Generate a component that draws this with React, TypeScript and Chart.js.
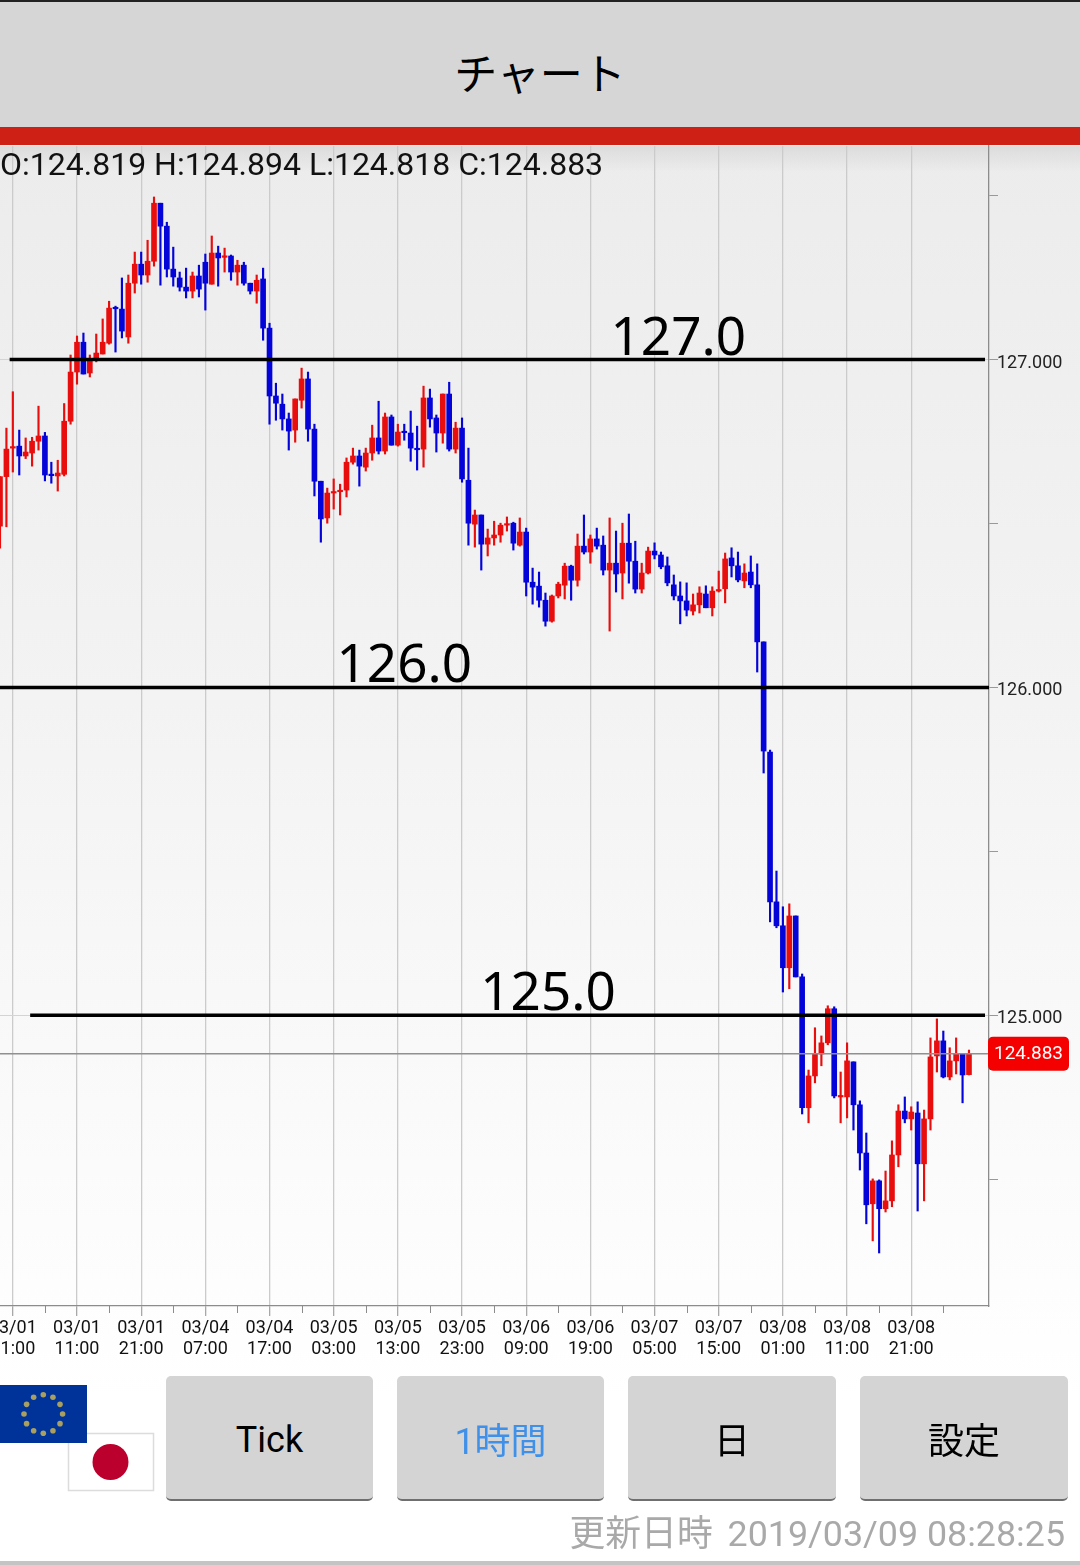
import React, { useEffect, useRef } from "react";
import { Chart, registerables } from "chart.js";

Chart.register(...registerables);

const opens = [
  126.492,126.643,126.730,126.736,126.706,126.715,126.751,126.767,126.648,126.645,
  126.650,126.812,126.962,127.053,126.959,126.998,127.017,127.050,127.157,127.154,
  127.069,127.233,127.291,127.258,127.300,127.477,127.407,127.276,127.249,127.221,
  127.209,127.255,127.297,127.230,127.325,127.312,127.316,127.267,127.288,127.233,
  127.209,127.246,127.096,126.889,126.864,126.819,126.785,126.876,126.941,126.788,
  126.629,126.517,126.593,126.597,126.602,126.687,126.706,126.672,126.715,126.761,
  126.721,126.825,126.739,126.779,126.776,126.729,126.727,126.883,126.822,126.776,
  126.895,126.727,126.791,126.632,126.498,126.526,126.437,126.456,126.465,126.495,
  126.501,126.434,126.474,126.321,126.309,126.266,126.202,126.279,126.312,126.370,
  126.327,126.431,126.413,126.453,126.434,126.358,126.379,126.349,126.440,126.385,
  126.300,126.349,126.416,126.404,126.371,126.313,126.279,126.264,126.233,126.252,
  126.285,126.243,126.294,126.301,126.395,126.371,126.325,126.352,126.313,126.139,
  125.803,125.346,125.273,125.145,125.303,125.117,124.718,124.815,124.882,124.916,
  125.020,124.751,124.751,124.858,124.727,124.580,124.425,124.495,124.410,124.434,
  124.574,124.708,124.684,124.702,124.547,124.684,124.876,124.922,124.812,124.861,
  124.882,124.819,
];
const highs = [
  126.643,126.791,126.902,126.785,126.761,126.763,126.858,126.778,126.687,126.693,
  126.866,127.014,127.072,127.081,127.014,127.078,127.124,127.178,127.163,127.249,
  127.258,127.328,127.328,127.364,127.496,127.477,127.419,127.343,127.267,127.279,
  127.267,127.288,127.322,127.377,127.346,127.340,127.319,127.303,127.297,127.233,
  127.258,127.279,127.111,126.928,126.895,126.837,126.880,126.974,126.962,126.803,
  126.629,126.608,126.636,126.620,126.700,126.730,126.724,126.730,126.800,126.873,
  126.837,126.831,126.803,126.803,126.843,126.797,126.919,126.910,126.831,126.895,
  126.931,126.809,126.822,126.730,126.541,126.526,126.483,126.507,126.501,126.520,
  126.504,126.517,126.486,126.364,126.352,126.288,126.282,126.321,126.379,126.373,
  126.468,126.526,126.465,126.486,126.462,126.517,126.477,126.501,126.529,126.446,
  126.379,126.428,126.441,126.413,126.398,126.343,126.322,126.319,126.285,126.307,
  126.310,126.307,126.355,126.410,126.426,126.413,126.377,126.401,126.377,126.139,
  125.809,125.440,125.331,125.340,125.303,125.126,124.833,124.962,124.937,125.029,
  125.026,124.827,124.916,124.858,124.739,124.641,124.501,124.498,124.525,124.617,
  124.727,124.751,124.721,124.736,124.711,124.931,124.989,124.952,124.901,124.931,
  124.882,124.894,
];
const lows = [
  126.425,126.490,126.657,126.648,126.698,126.675,126.724,126.630,126.623,126.599,
  126.645,126.803,126.925,126.956,126.947,126.993,127.017,127.047,127.023,127.066,
  127.050,127.203,127.230,127.236,127.285,127.227,127.252,127.224,127.209,127.188,
  127.188,127.191,127.151,127.230,127.224,127.267,127.242,127.227,127.227,127.200,
  127.172,127.059,126.803,126.815,126.785,126.724,126.748,126.852,126.751,126.584,
  126.443,126.501,126.544,126.526,126.581,126.681,126.614,126.660,126.693,126.712,
  126.712,126.739,126.736,126.754,126.690,126.663,126.672,126.794,126.718,126.745,
  126.721,126.715,126.626,126.434,126.428,126.358,126.401,126.434,126.443,126.477,
  126.419,126.431,126.279,126.254,126.245,126.187,126.199,126.273,126.270,126.266,
  126.309,126.407,126.379,126.422,126.343,126.172,126.291,126.270,126.318,126.288,
  126.288,126.346,126.392,126.362,126.310,126.267,126.194,126.218,126.221,126.227,
  126.243,126.218,126.291,126.258,126.337,126.322,126.304,126.304,126.047,125.739,
  125.285,125.267,125.071,125.081,125.117,124.699,124.672,124.794,124.846,124.910,
  124.748,124.672,124.687,124.650,124.528,124.364,124.312,124.275,124.400,124.416,
  124.538,124.672,124.650,124.403,124.434,124.650,124.827,124.809,124.803,124.821,
  124.733,124.818,
];
const closes = [
  126.643,126.727,126.733,126.706,126.718,126.751,126.767,126.648,126.646,126.654,
  126.812,126.962,127.053,126.956,126.998,127.020,127.053,127.157,127.155,127.087,
  127.233,127.291,127.258,127.300,127.477,127.407,127.276,127.252,127.221,127.209,
  127.255,127.215,127.233,127.325,127.310,127.316,127.267,127.288,127.233,127.209,
  127.242,127.096,126.889,126.867,126.819,126.782,126.880,126.941,126.788,126.629,
  126.514,126.593,126.597,126.601,126.687,126.706,126.675,126.715,126.761,126.721,
  126.825,126.739,126.779,126.777,126.730,126.725,126.883,126.819,126.776,126.895,
  126.727,126.791,126.636,126.501,126.526,126.437,126.456,126.465,126.495,126.499,
  126.440,126.474,126.321,126.306,126.266,126.202,126.279,126.315,126.370,126.327,
  126.431,126.413,126.453,126.431,126.358,126.379,126.346,126.440,126.385,126.300,
  126.349,126.416,126.404,126.368,126.319,126.279,126.264,126.236,126.252,126.288,
  126.243,126.294,126.298,126.392,126.371,126.328,126.349,126.313,126.139,125.806,
  125.346,125.273,125.145,125.303,125.117,124.718,124.815,124.882,124.916,125.020,
  124.754,124.755,124.861,124.727,124.580,124.422,124.495,124.410,124.434,124.574,
  124.708,124.684,124.705,124.547,124.684,124.873,124.922,124.812,124.861,124.882,
  124.818,124.883,
];

const tickDates = ["03/01","03/01","03/01","03/04","03/04","03/05","03/05","03/05","03/06","03/06","03/07","03/07","03/08","03/08","03/08"];
const tickHours = ["01:00","11:00","21:00","07:00","17:00","03:00","13:00","23:00","09:00","19:00","05:00","15:00","01:00","11:00","21:00"];
const levelValues = [127, 126, 125];
const levelTexts = ["127.0", "126.0", "125.0"];
const levelStarts = [1.5, -0.1, 4.7];
const levelEnds = [153.5, 154.2, 153.5];
const levelTextAt = [105.7, 63.0, 85.4];
const halfTicks = [124.5, 125, 125.5, 126, 126.5, 127, 127.5];
const lastPrice = 124.883;
const yRange = [124.1133, 127.6515];
const xRange = [0, 154.12];
const buttonLabels = ["Tick", "1時間", "日", "設定"];

const RED = "#e80e0e";
const BLUE = "#0404d8";
const ROBOTO = "Roboto, sans-serif";
const CJK = "Roboto, 'Noto Sans CJK JP', sans-serif";

const candlePlugin = {
  id: "sheetOverlay",
  afterDraw(chart: any) {
    const { ctx, scales } = chart;
    const x = scales.x;
    const y = scales.y;
    ctx.save();
    ctx.strokeStyle = "#8c8c8c";
    ctx.lineWidth = 1;
    x.ticks.forEach((t: any) => {
      if ((t.value - 2) % 10 !== 0) {
        const px = Math.round(x.getPixelForValue(t.value)) + 0.5;
        ctx.beginPath();
        ctx.moveTo(px, y.bottom);
        ctx.lineTo(px, y.bottom + 7);
        ctx.stroke();
      }
    });
    ctx.fillStyle = "#000";
    ctx.font = "53px 'Noto Sans', sans-serif";
    ctx.textAlign = "center";
    ctx.textBaseline = "alphabetic";
    levelTexts.forEach((s, i) => {
      ctx.fillText(s, x.getPixelForValue(levelTextAt[i]), y.getPixelForValue(levelValues[i]) - 5);
    });
    const py = y.getPixelForValue(lastPrice);
    ctx.fillStyle = "#f40000";
    ctx.beginPath();
    ctx.roundRect(x.right - 1, py - 17, 81, 34, 5);
    ctx.fill();
    ctx.fillStyle = "#fff";
    ctx.font = `19px ${ROBOTO}`;
    ctx.textAlign = "center";
    ctx.textBaseline = "middle";
    ctx.fillText(lastPrice.toFixed(3), x.right + 39.5, py + 1);
    ctx.restore();
  },
};

function Flags() {
  const stars = Array.from({ length: 12 }, (_, i) => {
    const a = (i * Math.PI) / 6;
    return { cx: 43.3 + 19.3 * Math.sin(a), cy: 1414 - 19.3 * Math.cos(a) };
  });
  return (
    <svg width={160} height={120} viewBox="0 1380 160 120" style={{ position: "absolute", left: 0, top: 1380 }}>
      <rect x={68.5} y={1433.5} width={85} height={57} fill="#fff" stroke="#dcdcdc" strokeWidth={1.5} />
      <circle cx={110.5} cy={1462} r={18} fill="#bc002d" />
      <rect x={0} y={1385} width={87} height={58} fill="#003399" />
      {stars.map((s, i) => (
        <circle key={i} cx={s.cx} cy={s.cy} r={2.8} fill="#a99f5e" />
      ))}
    </svg>
  );
}

export default function App() {
  const ref = useRef<HTMLCanvasElement | null>(null);

  useEffect(() => {
    document.body.style.margin = "0";
    const colors = opens.map((o, i) => (closes[i] >= o ? RED : BLUE));
    const chart = new Chart(ref.current as HTMLCanvasElement, {
      type: "bar",
      data: {
        datasets: [
          {
            type: "line",
            order: 0,
            data: [{ x: xRange[0], y: lastPrice }, { x: xRange[1], y: lastPrice }],
            borderColor: "#909090",
            borderWidth: 1.5,
            pointRadius: 0,
          },
          ...levelValues.map((v, i) => ({
            type: "line",
            order: 0,
            data: [{ x: levelStarts[i], y: v }, { x: levelEnds[i], y: v }],
            borderColor: "#000",
            borderWidth: 3.5,
            pointRadius: 0,
          })),
          {
            order: 2,
            data: highs.map((h, i) => ({ x: i, y: [lows[i], h] })),
            backgroundColor: colors,
            barThickness: 1.5,
            grouped: false,
          },
          {
            order: 1,
            data: opens.map((o, i) => ({ x: i, y: [o, closes[i]] })),
            backgroundColor: colors,
            barThickness: 5,
            minBarLength: 1.5,
            grouped: false,
          },
        ] as any,
      },
      options: {
        animation: false,
        responsive: false,
        devicePixelRatio: 1,
        layout: { padding: { top: 146, left: 0, right: 0, bottom: 0 } },
        plugins: { legend: { display: false }, tooltip: { enabled: false } },
        scales: {
          x: {
            type: "linear",
            offset: false,
            min: xRange[0],
            max: xRange[1],
            afterBuildTicks(scale: any) {
              const out = [];
              for (let i = 0; i < tickDates.length; i++) {
                out.push({ value: 2 + i * 10 });
                out.push({ value: 7 + i * 10 });
              }
              scale.ticks = out;
            },
            afterFit(scale: any) {
              scale.height = 259;
              scale.paddingLeft = 0;
              scale.paddingRight = 0;
            },
            ticks: {
              autoSkip: false,
              maxRotation: 0,
              minRotation: 0,
              padding: 2,
              color: "#111",
              font: { family: ROBOTO, size: 18, lineHeight: 1.17 },
              callback(v: any) {
                const k = (v - 2) / 10;
                return Number.isInteger(k) ? [tickDates[k], tickHours[k]] : "";
              },
            },
            grid: {
              offset: false,
              lineWidth: 1.3,
              tickLength: 10,
              color: (c: any) => (c.tick && (c.tick.value - 2) % 10 === 0 ? "#cbcbcb" : "rgba(0,0,0,0)"),
              tickColor: (c: any) => (c.tick && (c.tick.value - 2) % 10 === 0 ? "#a8a8a8" : "rgba(0,0,0,0)"),
            },
            border: { color: "#8c8c8c", width: 1.3 },
          },
          y: {
            type: "linear",
            position: "right",
            min: yRange[0],
            max: yRange[1],
            afterBuildTicks(scale: any) {
              scale.ticks = halfTicks.map((value) => ({ value }));
            },
            afterFit(scale: any) {
              scale.width = 91;
              scale.paddingTop = 0;
              scale.paddingBottom = 0;
            },
            ticks: {
              autoSkip: false,
              padding: -1,
              labelOffset: 3.5,
              color: "#222",
              font: { family: ROBOTO, size: 18 },
              callback(v: any) {
                return Number.isInteger(v) ? v.toFixed(3) : "";
              },
            },
            grid: {
              lineWidth: 1,
              tickLength: 9,
              color: (c: any) => (c.tick && Number.isInteger(c.tick.value) ? "#d4d4d4" : "rgba(0,0,0,0)"),
              tickColor: "#999",
            },
            border: { color: "#8c8c8c", width: 1.3 },
          },
        },
      } as any,
      plugins: [candlePlugin],
    });
    return () => chart.destroy();
  }, []);

  const buttonX = [166, 397, 628, 860];
  const buttonW = [207, 207, 208, 208];

  return (
    <div style={{ position: "relative", width: 1080, height: 1565, overflow: "hidden", background: "linear-gradient(#ececec 146px, #f3f3f3 700px, #ffffff 1400px)" }}>
      <div style={{ position: "absolute", left: 0, top: 146, width: 1080, height: 26, background: "linear-gradient(#dcdcdc, rgba(236,236,236,0))" }} />
      <div style={{ position: "absolute", left: 0, top: 0, width: 1080, height: 127, paddingTop: 12, background: "#d6d6d6", borderTop: "2px solid #222", boxSizing: "border-box", display: "flex", alignItems: "center", justifyContent: "center", fontFamily: CJK, fontSize: 43, color: "#000" }}>チャート</div>
      <div style={{ position: "absolute", left: 0, top: 127, width: 1080, height: 18, background: "#cf2015" }} />
      <canvas ref={ref} width={1080} height={1565} style={{ position: "absolute", left: 0, top: 0, width: 1080, height: 1565 }} />
      <div style={{ position: "absolute", left: 0, top: 145, fontFamily: ROBOTO, fontSize: 32, lineHeight: "38px", color: "#111", whiteSpace: "pre" }}>O:124.819 H:124.894 L:124.818 C:124.883</div>
      <Flags />
      {buttonLabels.map((s, i) => (
        <div key={s} style={{ position: "absolute", left: buttonX[i], top: 1376, width: buttonW[i], height: 125, paddingTop: i === 0 ? 5 : 0, boxSizing: "border-box", background: "#d4d4d4", borderRadius: 5, borderBottom: "2px solid #6f6f6f", display: "flex", alignItems: "center", justifyContent: "center", fontFamily: CJK, fontSize: 36, color: i === 1 ? "#3f90e8" : "#000" }}>{s}</div>
      ))}
      <div style={{ position: "absolute", right: 15, top: 1511, fontFamily: CJK, fontSize: 35.8, lineHeight: "46px", color: "#a9a9a9", whiteSpace: "pre" }}><span style={{ marginRight: 6 }}>更新日時</span> 2019/03/09 08:28:25</div>
      <div style={{ position: "absolute", left: 0, top: 1561, width: 1080, height: 4, background: "#c4c4c4" }} />
    </div>
  );
}
